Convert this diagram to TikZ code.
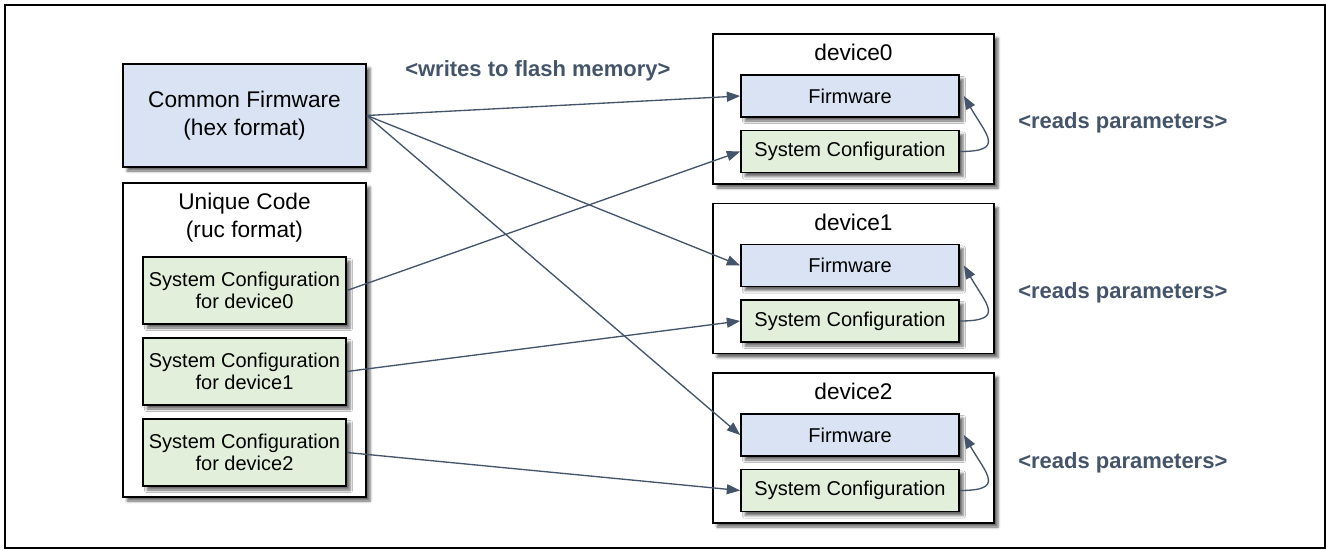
\documentclass[tikz,border=0pt]{standalone}
\usepackage{fontspec}
\setmainfont{Liberation Sans}
\usetikzlibrary{arrows.meta,shadows.blur}
\definecolor{fwblue}{RGB}{218,227,243}
\definecolor{cfggreen}{RGB}{226,239,218}
\definecolor{slate}{RGB}{68,84,106}
\tikzset{
  box/.style={draw, line width=1.3pt, align=center, inner sep=0pt,
              blur shadow={shadow xshift=3pt, shadow yshift=-3pt, shadow opacity=60, shadow blur radius=2pt},
              font=\fontsize{15}{20}\selectfont},
  fwbox/.style={box, fill=fwblue},
  cfgbox/.style={box, fill=cfggreen},
  devbox/.style={box, fill=white, minimum width=210.75pt, minimum height=112.5pt},
  title/.style={align=center, font=\fontsize{17}{21.5}\selectfont},
  flow/.style={draw=slate, line width=1pt, -{Triangle[length=10pt,width=7.5pt]}},
  note/.style={text=slate, inner sep=0pt, font=\bfseries\fontsize{16.5}{19}\selectfont}
}

\begin{document}
\begin{tikzpicture}[x=0.75pt,y=-0.75pt]
    \useasboundingbox (0,0) rectangle (1326,549);
    \draw[line width=1.5pt] (5,5) rectangle (1325,548);

    % sources on the left
    \node[fwbox, title, minimum width=182.25pt, minimum height=77.25pt] (common) at (244.5,115.5) {Common Firmware\\(hex format)};
    \node[box, fill=white, minimum width=182.25pt, minimum height=235.5pt] (unique) at (244.5,340) {};
    \node[title] (uniquetitle) at (244.5,217.5) {Unique Code\\(ruc format)};

    \node[cfgbox, minimum width=152.25pt, minimum height=50.25pt, font=\fontsize{15}{16.5}\selectfont] (cfg0) at (244.5,290.5) {System Configuration\\for device0};
    \node[cfgbox, minimum width=152.25pt, minimum height=50.25pt, font=\fontsize{15}{16.5}\selectfont] (cfg1) at (244.5,371.5) {System Configuration\\for device1};
    \node[cfgbox, minimum width=152.25pt, minimum height=50.25pt, font=\fontsize{15}{16.5}\selectfont] (cfg2) at (244.5,452.5) {System Configuration\\for device2};

    \node[note, anchor=base west] (writes) at (405,77) {<writes to flash memory>};

    % device0
    \node[devbox] (dev0) at (853.5,109) {};
    \node[title] (dev0title) at (853.5,52.5) {device0};
    \node[fwbox, minimum width=163.5pt, minimum height=31.5pt] (fw0) at (850,96) {Firmware};
    \node[cfgbox, minimum width=163.5pt, minimum height=31.5pt] (sc0) at (850,151.5) {System Configuration};
    \node[note, anchor=base west] (reads0) at (1018,129) {<reads parameters>};

    % device1
    \node[devbox] (dev1) at (853.5,278.5) {};
    \node[title] (dev1title) at (853.5,222) {device1};
    \node[fwbox, minimum width=163.5pt, minimum height=31.5pt] (fw1) at (850,265.5) {Firmware};
    \node[cfgbox, minimum width=163.5pt, minimum height=31.5pt] (sc1) at (850,321) {System Configuration};
    \node[note, anchor=base west] (reads1) at (1018,298.5) {<reads parameters>};

    % device2
    \node[devbox] (dev2) at (853.5,448) {};
    \node[title] (dev2title) at (853.5,391.5) {device2};
    \node[fwbox, minimum width=163.5pt, minimum height=31.5pt] (fw2) at (850,435) {Firmware};
    \node[cfgbox, minimum width=163.5pt, minimum height=31.5pt] (sc2) at (850,490.5) {System Configuration};
    \node[note, anchor=base west] (reads2) at (1018,468) {<reads parameters>};

    % firmware is written to every device
    \draw[flow] (common.east) -- (fw0.west);
    \draw[flow] (common.east) -- (fw1.west);
    \draw[flow] (common.east) -- (fw2.west);

    % each configuration goes to its own device
    \draw[flow] (cfg0.east) -- (sc0.west);
    \draw[flow] (cfg1.east) -- (sc1.west);
    \draw[flow] (cfg2.east) -- (sc2.west);

    % firmware reads the parameters
    \draw[flow] (sc0.east) to[out=0, in=-60, looseness=2.1] ([xshift=3pt]fw0.east);
    \draw[flow] (sc1.east) to[out=0, in=-60, looseness=2.1] ([xshift=3pt]fw1.east);
    \draw[flow] (sc2.east) to[out=0, in=-60, looseness=2.1] ([xshift=3pt]fw2.east);
\end{tikzpicture}
\end{document}
